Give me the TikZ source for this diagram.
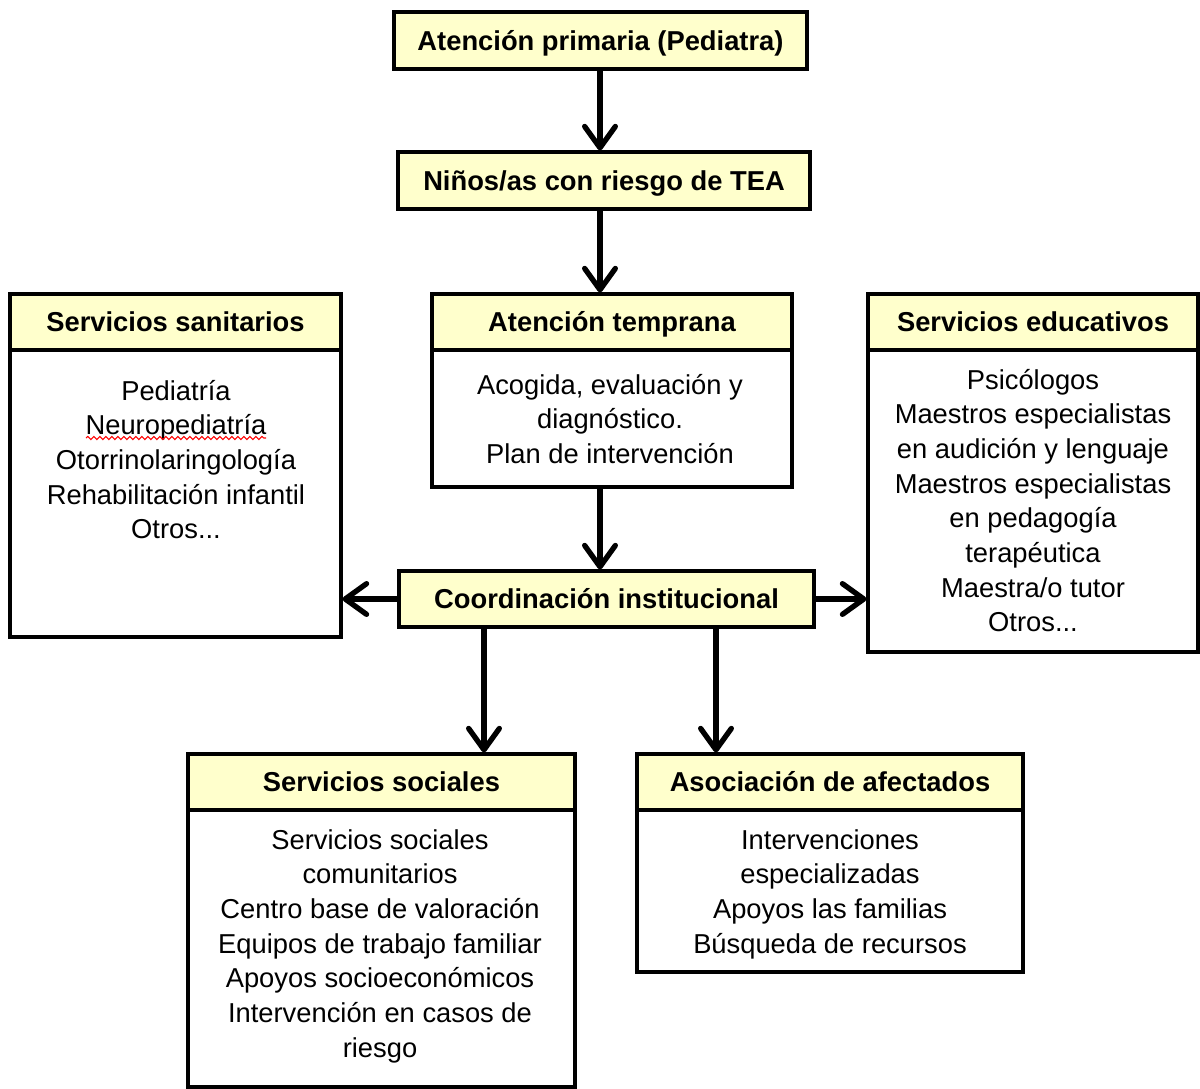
\documentclass[tikz,border=0pt]{standalone}
\usepackage{fontspec}
\setmainfont{Liberation Sans}
\usetikzlibrary{arrows.meta,shadows,decorations.pathmorphing,calc}
\definecolor{hdr}{HTML}{FFFFCC}
\definecolor{shd}{HTML}{9A9A9A}
\newcommand{\fl}{\rule{0pt}{20pt}}
\begin{document}
\begin{tikzpicture}[x=0.75pt,y=-0.75pt,
 boxbase/.style={draw=black, line width=2.3pt, inner sep=0pt,
   drop shadow={shadow xshift=1.5pt, shadow yshift=-1.5pt, fill=shd, opacity=1}},
 hdrbox/.style 2 args={boxbase, fill=hdr, minimum width=#1*0.75pt, minimum height=#2*0.75pt,
   font=\fontsize{20.5}{26}\selectfont\bfseries, text height=14.7pt, text depth=0pt},
 bodybox/.style 2 args={boxbase, fill=white, minimum width=#1*0.75pt, minimum height=#2*0.75pt},
 bodytext/.style={font=\fontsize{20.5}{26}\selectfont, align=center, anchor=north, inner sep=0pt},
 arr/.style={line width=4pt, -{Straight Barb[length=16pt,width=23pt,line join=round,line cap=round]}}
]
\useasboundingbox (0,0) rectangle (1200,1089);

% top chain
\node[hdrbox={413}{57}] (box1) at (600.5,40.5) {Atención primaria (Pediatra)};
\node[hdrbox={412}{57}] (box2) at (604,180.5) {Niños/as con riesgo de TEA};

% Atención temprana
\node[hdrbox={360}{56}] (tempH) at (612,322) {Atención temprana};
\node[bodybox={360}{137}] (tempB) at (612,418.5) {};
\node[bodytext] (tempT) at (610,367.3) {\fl Acogida, evaluación y\\diagnóstico.\\Plan de intervención};

% Servicios sanitarios
\node[hdrbox={331}{56}] (sanH) at (175.5,322) {Servicios sanitarios};
\node[bodybox={331}{287}] (sanB) at (175.5,493.5) {};
\node[bodytext] (sanT) at (176,373.3) {\fl Pediatría\\Neuropediatría\\Otorrinolaringología\\Rehabilitación infantil\\Otros...};
\draw[red, line width=0.8pt, decorate, decoration={snake, amplitude=1.2pt, segment length=4.5pt}] (86,438) -- (266,438);

% Servicios educativos
\node[hdrbox={330}{56}] (eduH) at (1033,322) {Servicios educativos};
\node[bodybox={330}{302}] (eduB) at (1033,501) {};
\node[bodytext] (eduT) at (1033,362.3) {\fl Psicólogos\\Maestros especialistas\\en audición y lenguaje\\Maestros especialistas\\en pedagogía\\terapéutica\\Maestra/o tutor\\Otros...};

% Coordinación
\node[hdrbox={415}{56}] (coord) at (606.5,599) {Coordinación institucional};

% Servicios sociales
\node[hdrbox={387}{56}] (socH) at (381.5,782) {Servicios sociales};
\node[bodybox={387}{277}] (socB) at (381.5,948.5) {};
\node[bodytext] (socT) at (380,822.3) {\fl Servicios sociales\\comunitarios\\Centro base de valoración\\Equipos de trabajo familiar\\Apoyos socioeconómicos\\Intervención en casos de\\riesgo};

% Asociación de afectados
\node[hdrbox={386}{56}] (asoH) at (830,782) {Asociación de afectados};
\node[bodybox={386}{162}] (asoB) at (830,891) {};
\node[bodytext] (asoT) at (830,822.3) {\fl Intervenciones\\especializadas\\Apoyos las familias\\Búsqueda de recursos};

% connectors
\coordinate (ax) at (600,0);
\coordinate (c1) at (484,0);
\coordinate (c2) at (716,0);
\draw[arr] (ax |- box1.south) -- (ax |- box2.north);
\draw[arr] (ax |- box2.south) -- (ax |- tempH.north);
\draw[arr] (ax |- tempB.south) -- (ax |- coord.north);
\draw[arr] (coord.west) -- (sanB.east |- coord.west);
\draw[arr] (coord.east) -- (eduB.west |- coord.east);
\draw[arr] (c1 |- coord.south) -- (c1 |- socH.north);
\draw[arr] (c2 |- coord.south) -- (c2 |- asoH.north);
\end{tikzpicture}
\end{document}
